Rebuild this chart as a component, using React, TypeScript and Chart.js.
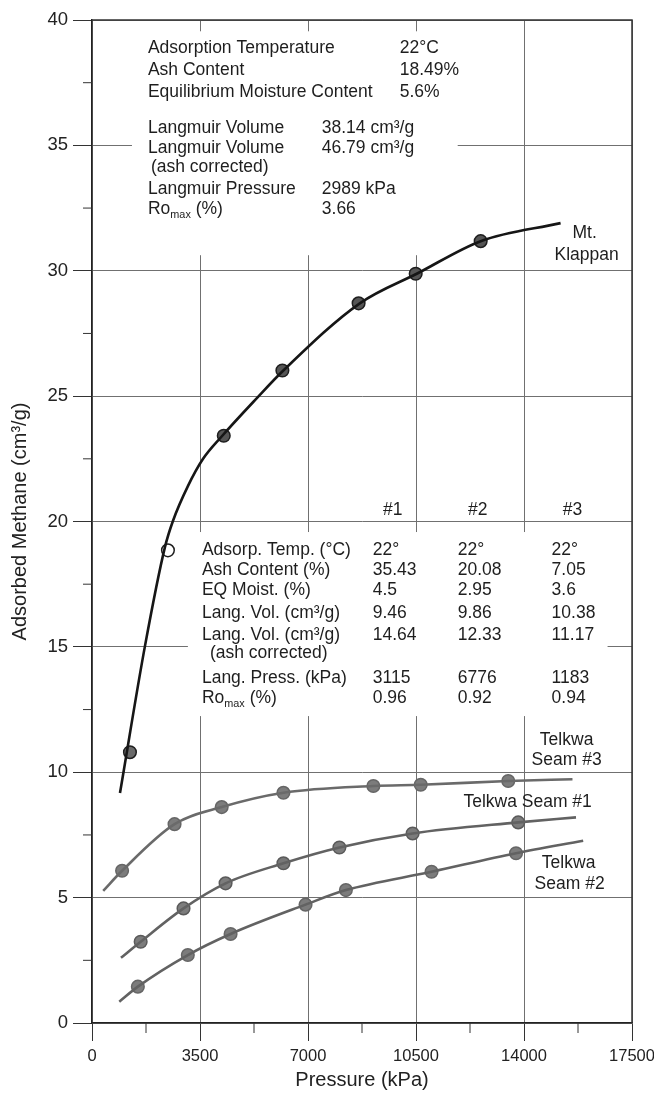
import React, { useEffect, useRef } from 'react';
import Chart from 'chart.js/auto';

const FONT = '"Liberation Sans", Arial, Helvetica, sans-serif';

// ---- Mt. Klappan ----
const klappanPressure = [1230, 2461, 4270, 6170, 8640, 10490, 12596];
const klappanAdsorbed = [10.8, 18.85, 23.42, 26.02, 28.7, 29.88, 31.18];
const klappanCurvePressure = [907, 1716, 2364, 2623, 3108, 3594, 4209, 5343, 6185, 8678, 10556, 12596, 15186];
const klappanCurveAdsorbed = [9.17, 15.03, 18.98, 20.02, 21.41, 22.49, 23.4, 24.92, 26.0, 28.7, 29.9, 31.18, 31.9];

// ---- Telkwa Seam #3 ----
const seam3Pressure = [975, 2675, 4203, 6204, 9118, 10653, 13489];
const seam3Adsorbed = [6.07, 7.93, 8.61, 9.18, 9.45, 9.5, 9.65];
const seam3CurvePressure = [363, 975, 2675, 4203, 6204, 9118, 10653, 13489, 15571];
const seam3CurveAdsorbed = [5.27, 6.07, 7.93, 8.61, 9.18, 9.45, 9.5, 9.65, 9.72];

// ---- Telkwa Seam #1 ----
const seam1Pressure = [1577, 2966, 4329, 6204, 8017, 10390, 13813];
const seam1Adsorbed = [3.24, 4.57, 5.57, 6.37, 7.0, 7.56, 8.0];
const seam1CurvePressure = [939, 1577, 2966, 4329, 6204, 8017, 10390, 13813, 15685];
const seam1CurveAdsorbed = [2.6, 3.24, 4.57, 5.57, 6.37, 7.0, 7.56, 8.0, 8.2];

// ---- Telkwa Seam #2 ----
const seam2Pressure = [1486, 3105, 4491, 6920, 8228, 11003, 13742];
const seam2Adsorbed = [1.45, 2.71, 3.55, 4.72, 5.3, 6.03, 6.77];
const seam2CurvePressure = [884, 1486, 3105, 4491, 6920, 8228, 11003, 13742, 15918];
const seam2CurveAdsorbed = [0.85, 1.45, 2.71, 3.55, 4.72, 5.3, 6.03, 6.77, 7.27];

// ---- Axis ticks ----
const xTickValues = [0, 3500, 7000, 10500, 14000, 17500];
const yTickValues = [0, 5, 10, 15, 20, 25, 30, 35, 40];

// ---- Text blocks ----
const klappanPropLabels = ['Adsorption Temperature', 'Ash Content', 'Equilibrium Moisture Content', 'Langmuir Volume', 'Langmuir Volume', '(ash corrected)', 'Langmuir Pressure', 'Ro_{max} (%)'];
const klappanPropValues = ['22°C', '18.49%', '5.6%', '38.14 cm³/g', '46.79 cm³/g', '', '2989 kPa', '3.66'];

const tableHeaders = ['#1', '#2', '#3'];
const tableRowLabels = ['Adsorp. Temp. (°C)', 'Ash Content (%)', 'EQ Moist. (%)', 'Lang. Vol. (cm³/g)', 'Lang. Vol. (cm³/g)', '(ash corrected)', 'Lang. Press. (kPa)', 'Ro_{max} (%)'];
const seam1Props = ['22°', '35.43', '4.5', '9.46', '14.64', '', '3115', '0.96'];
const seam2Props = ['22°', '20.08', '2.95', '9.86', '12.33', '', '6776', '0.92'];
const seam3Props = ['22°', '7.05', '3.6', '10.38', '11.17', '', '1183', '0.94'];

const curveLabels = ['Mt.', 'Klappan', 'Telkwa', 'Seam #3', 'Telkwa Seam #1', 'Telkwa', 'Seam #2'];

const pts = (xs: number[], ys: number[]) => xs.map((x, i) => ({ x, y: ys[i] }));

function drawRich(ctx: CanvasRenderingContext2D, text: string, x: number, y: number, size: number, align: 'left' | 'center') {
  const segs: { t: string; k: string }[] = [];
  const re = /_\{([^}]*)\}|\^\{([^}]*)\}|([^_^]+)/g;
  let m: RegExpExecArray | null;
  while ((m = re.exec(text))) {
    if (m[1] !== undefined) segs.push({ t: m[1], k: 'sub' });
    else if (m[2] !== undefined) segs.push({ t: m[2], k: 'sup' });
    else segs.push({ t: m[3], k: 'n' });
  }
  const fN = `${size}px ${FONT}`;
  const fS = `${size * 0.62}px ${FONT}`;
  let w = 0;
  const widths = segs.map((s) => {
    ctx.font = s.k === 'n' ? fN : fS;
    const ww = ctx.measureText(s.t).width;
    w += ww;
    return ww;
  });
  let cx = align === 'center' ? x - w / 2 : x;
  ctx.textAlign = 'left';
  ctx.textBaseline = 'middle';
  segs.forEach((s, i) => {
    ctx.font = s.k === 'n' ? fN : fS;
    const dy = s.k === 'sub' ? size * 0.32 : s.k === 'sup' ? -size * 0.35 : 0;
    ctx.fillText(s.t, cx, y + dy);
    cx += widths[i];
  });
}

// layout of decorations (data units)
const TEXT = 17.5;
const topRowsY = [38.88, 38.0, 37.12, 35.69, 34.89, 34.13, 33.25, 32.46];
const tableRowsY = [18.86, 18.06, 17.26, 16.35, 15.47, 14.75, 13.76, 12.96];

const decorPlugin = {
  id: 'decor',
  beforeDatasetsDraw(chart: any) {
    const { ctx, chartArea: a, scales } = chart;
    const x = scales.x, y = scales.y;
    ctx.save();
    // white boxes behind the text blocks (grid interrupted there)
    ctx.fillStyle = '#ffffff';
    const masks = [
      [1295, 11851, 39.55, 30.62],
      [3108, 16708, 19.58, 12.24],
    ];
    for (const mm of masks) {
      const x0 = x.getPixelForValue(mm[0]);
      const x1 = x.getPixelForValue(mm[1]);
      const y0 = y.getPixelForValue(mm[2]);
      const y1 = y.getPixelForValue(mm[3]);
      ctx.fillRect(x0, y0, x1 - x0, y1 - y0);
    }
    // top and right frame
    ctx.strokeStyle = '#333';
    ctx.lineWidth = 1.5;
    ctx.beginPath();
    ctx.moveTo(a.left, a.top);
    ctx.lineTo(a.right, a.top);
    ctx.lineTo(a.right, a.bottom);
    ctx.stroke();
    // minor ticks
    ctx.lineWidth = 1;
    ctx.beginPath();
    for (let i = 0; i < xTickValues.length - 1; i++) {
      const v = (xTickValues[i] + xTickValues[i + 1]) / 2;
      const px = x.getPixelForValue(v);
      ctx.moveTo(px, a.bottom);
      ctx.lineTo(px, a.bottom + 10);
    }
    for (let i = 0; i < yTickValues.length - 1; i++) {
      const v = (yTickValues[i] + yTickValues[i + 1]) / 2;
      const py = y.getPixelForValue(v);
      ctx.moveTo(a.left, py);
      ctx.lineTo(a.left - 9, py);
    }
    ctx.stroke();
    ctx.restore();
  },
  afterDatasetsDraw(chart: any) {
    const { ctx, scales } = chart;
    const X = (v: number) => scales.x.getPixelForValue(v);
    const Y = (v: number) => scales.y.getPixelForValue(v);
    ctx.save();
    ctx.fillStyle = '#1e1e1e';
    // Mt. Klappan property block
    klappanPropLabels.forEach((t, i) => {
      const lx = i === 5 ? 1910 : 1813;
      drawRich(ctx, t, X(lx), Y(topRowsY[i]), TEXT, 'left');
      const v = klappanPropValues[i];
      if (v) drawRich(ctx, v, X(i < 3 ? 9973 : 7447), Y(topRowsY[i]), TEXT, 'left');
    });
    // Telkwa table
    const hx = [9747, 12499, 15575];
    tableHeaders.forEach((t, i) => drawRich(ctx, t, X(hx[i]), Y(20.45), TEXT, 'center'));
    const cols = [seam1Props, seam2Props, seam3Props];
    const cx = [9099, 11852, 14895];
    tableRowLabels.forEach((t, i) => {
      drawRich(ctx, t, X(i === 5 ? 3821 : 3562), Y(tableRowsY[i]), TEXT, 'left');
      cols.forEach((c, j) => {
        if (c[i]) drawRich(ctx, c[i], X(cx[j]), Y(tableRowsY[i]), TEXT, 'left');
      });
    });
    // curve labels
    const lp = [
      [15964, 31.5], [16028, 30.62],
      [15381, 11.28], [15381, 10.49],
      [14118, 8.81],
      [15446, 6.38], [15478, 5.54],
    ];
    curveLabels.forEach((t, i) => drawRich(ctx, t, X(lp[i][0]), Y(lp[i][1]), TEXT, 'center'));
    ctx.restore();
  },
};

export default function App() {
  const ref = useRef<HTMLCanvasElement>(null);
  useEffect(() => {
    if (!ref.current) return;
    const curve = (data: any, color: string, width: number) => ({
      type: 'scatter' as const,
      data,
      showLine: true,
      borderColor: color,
      borderWidth: width,
      pointRadius: 0,
      cubicInterpolationMode: 'monotone' as const,
      fill: false,
    });
    const markers = (data: any, fill: any, border: string) => ({
      type: 'scatter' as const,
      data,
      showLine: false,
      pointRadius: 6.3,
      pointBackgroundColor: fill,
      pointBorderColor: border,
      pointBorderWidth: 1.5,
    });
    const chart = new Chart(ref.current, {
      type: 'scatter',
      data: {
        datasets: [
          curve(pts(klappanCurvePressure, klappanCurveAdsorbed), '#161616', 2.6),
          curve(pts(seam3CurvePressure, seam3CurveAdsorbed), '#6a6a6a', 2.6),
          curve(pts(seam1CurvePressure, seam1CurveAdsorbed), '#626262', 2.6),
          curve(pts(seam2CurvePressure, seam2CurveAdsorbed), '#626262', 2.6),
          markers(pts(klappanPressure, klappanAdsorbed), ['#6a6a6a', '#ffffff', '#555', '#555', '#555', '#555', '#555'], '#1e1e1e'),
          markers(pts(seam3Pressure, seam3Adsorbed), '#7c7c7c', '#666'),
          markers(pts(seam1Pressure, seam1Adsorbed), ['#7c7c7c', '#7c7c7c', '#7c7c7c', '#777', '#7c7c7c', '#7c7c7c', '#7c7c7c'], '#5a5a5a'),
          markers(pts(seam2Pressure, seam2Adsorbed), '#7c7c7c', '#666'),
        ],
      },
      options: {
        responsive: false,
        animation: false,
        layout: { padding: { top: 20, right: 22, left: 0, bottom: 0 } },
        plugins: { legend: { display: false }, tooltip: { enabled: false } },
        scales: {
          x: {
            type: 'linear',
            min: xTickValues[0],
            max: xTickValues[xTickValues.length - 1],
            afterBuildTicks: (s: any) => { s.ticks = xTickValues.map((v) => ({ value: v })); },
            afterFit: (s: any) => { s.height = 72; s.paddingLeft = 0; s.paddingRight = 0; },
            ticks: {
              color: '#222',
              font: { family: FONT, size: 16.5 },
              padding: 6,
              maxRotation: 0,
              autoSkip: false,
              callback: (v: any) => String(v),
            },
            grid: { color: '#707070', lineWidth: 1, tickLength: 18, tickColor: '#333' },
            border: { color: '#222', width: 1.5 },
            title: { display: true, text: 'Pressure (kPa)', color: '#222', font: { family: FONT, size: 20 }, padding: { top: 0, bottom: 3 } },
          },
          y: {
            type: 'linear',
            min: yTickValues[0],
            max: yTickValues[yTickValues.length - 1],
            afterBuildTicks: (s: any) => { s.ticks = yTickValues.map((v) => ({ value: v })); },
            afterFit: (s: any) => { s.width = 92; s.paddingTop = 0; s.paddingBottom = 0; },
            ticks: {
              color: '#222',
              font: { family: FONT, size: 18.5 },
              padding: 5,
              callback: (v: any) => String(v),
            },
            grid: { color: '#707070', lineWidth: 1, tickLength: 19, tickColor: '#333' },
            border: { color: '#222', width: 1.5 },
            title: { display: true, text: 'Adsorbed Methane (cm³/g)', color: '#222', font: { family: FONT, size: 20 }, padding: { top: 8, bottom: 0 } },
          },
        },
      },
      plugins: [decorPlugin],
    } as any);
    return () => chart.destroy();
  }, []);
  return (
    <div style={{ position: 'absolute', left: 0, top: 0, width: 654, height: 1095, background: '#fff' }}>
      <canvas ref={ref} width={654} height={1095} style={{ display: 'block' }} />
    </div>
  );
}
